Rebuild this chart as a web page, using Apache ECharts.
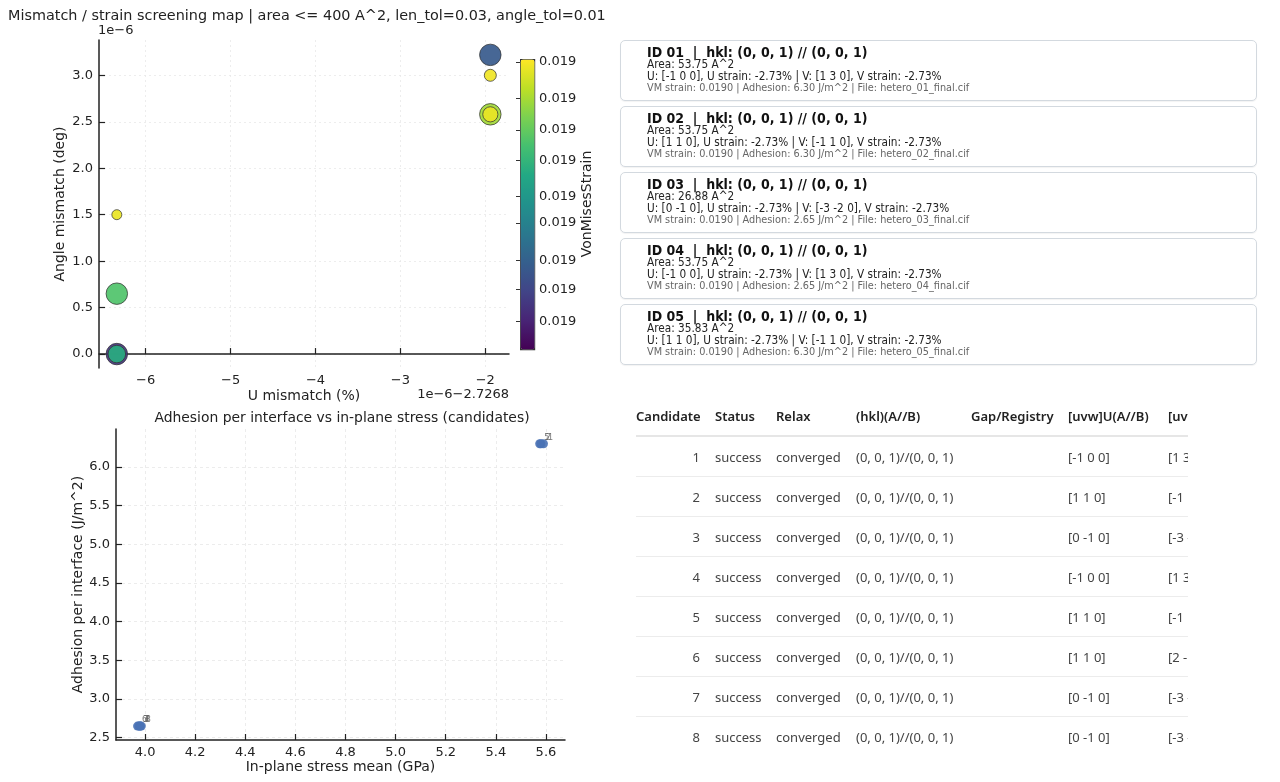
<!DOCTYPE html>
<html><head><meta charset="utf-8">
<script src="https://cdn.jsdelivr.net/npm/echarts@6/dist/echarts.min.js"></script>
<style>
html,body{margin:0;padding:0;background:#fff;width:1280px;height:782px;overflow:hidden;}
#chart{position:absolute;left:0;top:0;width:1280px;height:782px;}
.card{position:absolute;left:620px;width:637px;height:61px;border:1px solid #d3d9df;border-radius:5px;box-sizing:border-box;box-shadow:0 1px 1px rgba(0,0,0,0.05);font-family:"DejaVu Sans Condensed","DejaVu Sans",sans-serif;background:#fff;}
.card .l{position:absolute;left:26px;white-space:pre;line-height:12px;}
.card .t{top:3px;font-weight:bold;font-size:14px;color:#111;line-height:16px;}
.card .a{top:17px;font-size:11.7px;color:#222;}
.card .u{top:29px;font-size:11.7px;color:#222;}
.card .v{top:41px;font-size:10.8px;color:#666;}
#tbl{position:absolute;left:636px;top:396px;width:552px;height:380px;overflow:hidden;font-family:"Noto Sans",sans-serif;}
#tbl table{border-collapse:collapse;table-layout:fixed;width:620px;}
#tbl th{font-weight:600;font-size:13px;color:#222;height:39px;text-align:left;padding:0 0 0 8px;border-bottom:2px solid #e6e6e6;white-space:nowrap;overflow:hidden;}
#tbl td{font-size:13px;color:#444;height:39px;padding:0 0 0 8px;border-bottom:1px solid #ececec;white-space:nowrap;overflow:hidden;}
#tbl tr:last-child td{border-bottom:none;}
#tbl th.c0{padding-left:0;}
#tbl td.c0{text-align:right;padding-right:7px;padding-left:0;}
</style></head>
<body>
<div id="chart"></div>
<div id="cards"></div>
<div id="tbl"></div>
<script>
// ---------------- data ----------------
const candidateIds = [1, 2, 3, 4, 5, 6, 7, 8];
// U mismatch shown with matplotlib offset: value = -2.7268 + u * 1e-6 (%)
const uMismatchScaled = [-1.94, -1.94, -1.94, -6.34, -6.34, -6.34, -1.94, -6.34];
// Angle mismatch shown as multiples of 1e-6 deg
const angleMismatchScaled = [3.22, 2.58, 2.58, 0.00, 0.00, 0.65, 3.00, 1.50];
const interfaceArea = [53.75, 53.75, 26.88, 53.75, 35.83, 53.75, 16.80, 11.60];
const vmStrain = [0.01899956, 0.01900072, 0.01900094, 0.01899930, 0.01900024, 0.01900044, 0.01900096, 0.01900094];
const stressMean = [5.59, 5.58, 3.975, 3.98, 5.575, 3.97, 3.98, 3.985];
const adhesion = [6.30, 6.30, 2.65, 2.65, 6.30, 2.65, 2.65, 2.65];
const uStrain = [-2.73, -2.73, -2.73, -2.73, -2.73, -2.73, -2.73, -2.73];
const vStrain = [-2.73, -2.73, -2.73, -2.73, -2.73, -2.73, -2.73, -2.73];
const statusList = ['success', 'success', 'success', 'success', 'success', 'success', 'success', 'success'];
const relaxList = ['converged', 'converged', 'converged', 'converged', 'converged', 'converged', 'converged', 'converged'];
const hklA = ['(0, 0, 1)', '(0, 0, 1)', '(0, 0, 1)', '(0, 0, 1)', '(0, 0, 1)', '(0, 0, 1)', '(0, 0, 1)', '(0, 0, 1)'];
const hklB = ['(0, 0, 1)', '(0, 0, 1)', '(0, 0, 1)', '(0, 0, 1)', '(0, 0, 1)', '(0, 0, 1)', '(0, 0, 1)', '(0, 0, 1)'];
const gapList = ['', '', '', '', '', '', '', ''];
const uvwU = ['[-1 0 0]', '[1 1 0]', '[0 -1 0]', '[-1 0 0]', '[1 1 0]', '[1 1 0]', '[0 -1 0]', '[0 -1 0]'];
const uvwV = ['[1 3 0]', '[-1 1 0]', '[-3 -2 0]', '[1 3 0]', '[-1 1 0]', '[2 -1 0]', '[-3 -2 0]', '[-3 -2 0]'];
const cardCount = 5;

const tableHeaders = ['Candidate', 'Status', 'Relax', '(hkl)(A//B)', 'Gap/Registry', '[uvw]U(A//B)', '[uvw]V(A//B)'];
const uTicks = [-6, -5, -4, -3, -2];
const angleTicks = [0, 0.5, 1.0, 1.5, 2.0, 2.5, 3.0];
const stressTicks = [4.0, 4.2, 4.4, 4.6, 4.8, 5.0, 5.2, 5.4, 5.6];
const adhesionTicks = [2.5, 3.0, 3.5, 4.0, 4.5, 5.0, 5.5, 6.0];
const cbMin = 0.01899900, cbMax = 0.01900100;
const cbTicks = [0.01900098, 0.01900073, 0.01900051, 0.01900030, 0.01900005, 0.01899987, 0.01899961, 0.01899941, 0.01899919];
const viridis = ['#440154', '#482475', '#414487', '#355f8d', '#2a788e', '#21918c', '#22a884', '#44bf70', '#7ad151', '#bddf26', '#fde725'];

// ---------------- cards ----------------
const pad2 = n => String(n).padStart(2, '0');
let cardsHtml = '';
for (let i = 0; i < cardCount; i++) {
  const top = 40 + i * 66;
  cardsHtml += `<div class="card" style="top:${top}px">` +
    `<div class="l t">ID ${pad2(candidateIds[i])}  |  hkl: ${hklA[i]} // ${hklB[i]}</div>` +
    `<div class="l a">Area: ${interfaceArea[i].toFixed(2)} A^2</div>` +
    `<div class="l u">U: ${uvwU[i]}, U strain: ${uStrain[i].toFixed(2)}% | V: ${uvwV[i]}, V strain: ${vStrain[i].toFixed(2)}%</div>` +
    `<div class="l v">VM strain: ${vmStrain[i].toFixed(4)} | Adhesion: ${adhesion[i].toFixed(2)} J/m^2 | File: hetero_${pad2(candidateIds[i])}_final.cif</div>` +
    `</div>`;
}
document.getElementById('cards').innerHTML = cardsHtml;

// ---------------- table ----------------
const colW = [71, 61, 80, 115, 97, 100, 96];
let t = '<table><colgroup>' + colW.map(w => `<col style="width:${w}px">`).join('') + '</colgroup><thead><tr>';
tableHeaders.forEach((h, j) => { t += `<th class="c${j}">${h}</th>`; });
t += '</tr></thead><tbody>';
for (let i = 0; i < candidateIds.length; i++) {
  const row = [candidateIds[i], statusList[i], relaxList[i], hklA[i] + '//' + hklB[i], gapList[i], uvwU[i], uvwV[i]];
  t += '<tr>' + row.map((v, j) => `<td class="c${j}">${v}</td>`).join('') + '</tr>';
}
t += '</tbody></table>';
document.getElementById('tbl').innerHTML = t;

// ---------------- charts ----------------
const FONT = 'DejaVu Sans';
const INK = '#222';
const minus = s => String(s).replace(/-/g, '\u2212');
const topData = candidateIds.map((id, i) => [uMismatchScaled[i], angleMismatchScaled[i], vmStrain[i], interfaceArea[i], id]);
const botData = candidateIds.map((id, i) => [stressMean[i], adhesion[i], id]);

const axisLineS = {show: true, lineStyle: {color: INK, width: 1.5}};
const tickS = vals => ({show: true, inside: true, length: 6, customValues: vals, lineStyle: {color: INK, width: 1.2}});
const labelS = (vals, fmt, margin) => ({customValues: vals, formatter: fmt, fontSize: 13, color: INK, margin: margin, fontFamily: FONT});

const chart = echarts.init(document.getElementById('chart'));
chart.setOption({
  animation: false,
  textStyle: {fontFamily: FONT},
  grid: [
    {left: 99, top: 40, width: 410, height: 328},
    {left: 520, top: 59, width: 14, height: 290},
    {left: 116, top: 429, width: 449, height: 311}
  ],
  xAxis: [
    {gridIndex: 0, type: 'value', min: -6.55, max: -1.72,
      name: 'U mismatch (%)', nameLocation: 'middle', nameGap: 21,
      nameTextStyle: {fontSize: 14, color: INK, fontFamily: FONT},
      axisLine: axisLineS, axisTick: tickS(uTicks),
      axisLabel: labelS(uTicks, v => minus(v), 6),
      splitLine: {show: true, lineStyle: {color: '#e8e8e8', type: [2, 3], width: 0.8}}},
    {gridIndex: 1, type: 'value', min: 0, max: 1, show: false},
    {gridIndex: 2, type: 'value', min: 3.884, max: 5.676,
      name: 'In-plane stress mean (GPa)', nameLocation: 'middle', nameGap: 20,
      nameTextStyle: {fontSize: 14, color: INK, fontFamily: FONT},
      axisLine: axisLineS, axisTick: tickS(stressTicks),
      axisLabel: labelS(stressTicks, v => v.toFixed(1), 6),
      splitLine: {show: true, lineStyle: {color: '#e8e8e8', type: [3, 3], width: 0.8}}}
  ],
  yAxis: [
    {gridIndex: 0, type: 'value', min: -0.15, max: 3.38,
      name: 'Angle mismatch (deg)', nameLocation: 'middle', nameGap: 32, nameRotate: 90,
      nameTextStyle: {fontSize: 14, color: INK, fontFamily: FONT},
      axisLine: axisLineS, axisTick: tickS(angleTicks),
      axisLabel: labelS(angleTicks, v => v.toFixed(1), 6),
      splitLine: {show: true, lineStyle: {color: '#e8e8e8', type: [2, 3], width: 0.8}}},
    {gridIndex: 1, type: 'value', min: cbMin, max: cbMax, position: 'right', z: 10,
      name: 'VonMisesStrain', nameLocation: 'middle', nameGap: 46, nameRotate: 90,
      nameTextStyle: {fontSize: 14, color: INK, fontFamily: FONT},
      axisLine: {show: false},
      axisTick: {show: true, inside: true, length: 4, customValues: cbTicks, lineStyle: {color: '#333', width: 1}},
      axisLabel: labelS(cbTicks, v => v.toFixed(3), 5),
      splitLine: {show: false}},
    {gridIndex: 2, type: 'value', min: 2.47, max: 6.49,
      name: 'Adhesion per interface (J/m^2)', nameLocation: 'middle', nameGap: 29, nameRotate: 90,
      nameTextStyle: {fontSize: 14, color: INK, fontFamily: FONT},
      axisLine: axisLineS, axisTick: tickS(adhesionTicks),
      axisLabel: labelS(adhesionTicks, v => v.toFixed(1), 6),
      splitLine: {show: true, lineStyle: {color: '#e8e8e8', type: [3, 3], width: 0.8}}}
  ],
  visualMap: [{
    type: 'continuous', seriesIndex: 0, dimension: 2, min: cbMin, max: cbMax,
    inRange: {color: viridis}, calculable: false, hoverLink: false,
    left: 520, top: 59, itemWidth: 14, itemHeight: 290, padding: 0,
    borderWidth: 1.2, borderColor: '#333', orient: 'vertical'
  }],
  graphic: [
    {type: 'text', x: 8, y: 16, style: {text: 'Mismatch / strain screening map | area <= 400 A^2, len_tol=0.03, angle_tol=0.01', fontSize: 14.4, fill: INK, fontFamily: FONT, verticalAlign: 'middle'}},
    {type: 'text', x: 98, y: 31, style: {text: '1e\u22126', fontSize: 13, fill: INK, fontFamily: FONT, verticalAlign: 'middle'}},
    {type: 'text', x: 509, y: 395, style: {text: '1e\u22126\u22122.7268', fontSize: 13, fill: INK, fontFamily: FONT, align: 'right', verticalAlign: 'middle'}},
    {type: 'text', x: 342, y: 418, style: {text: 'Adhesion per interface vs in-plane stress (candidates)', fontSize: 13.9, fill: INK, fontFamily: FONT, align: 'center', verticalAlign: 'middle'}}
  ],
  series: [
    {type: 'scatter', xAxisIndex: 0, yAxisIndex: 0, data: topData,
      symbolSize: v => 2.93 * Math.sqrt(v[3]),
      itemStyle: {borderColor: '#333', borderWidth: 0.8, opacity: 0.92}},
    {type: 'scatter', xAxisIndex: 1, yAxisIndex: 1, data: []},
    {type: 'scatter', xAxisIndex: 2, yAxisIndex: 2, data: botData,
      symbolSize: 9,
      itemStyle: {color: '#4a72b5', opacity: 0.9},
      label: {show: true, formatter: p => String(p.data[2]), position: 'right', distance: 0, offset: [0, -6], fontSize: 8, color: '#666', fontFamily: FONT}}
  ]
});
</script>
</body></html>
